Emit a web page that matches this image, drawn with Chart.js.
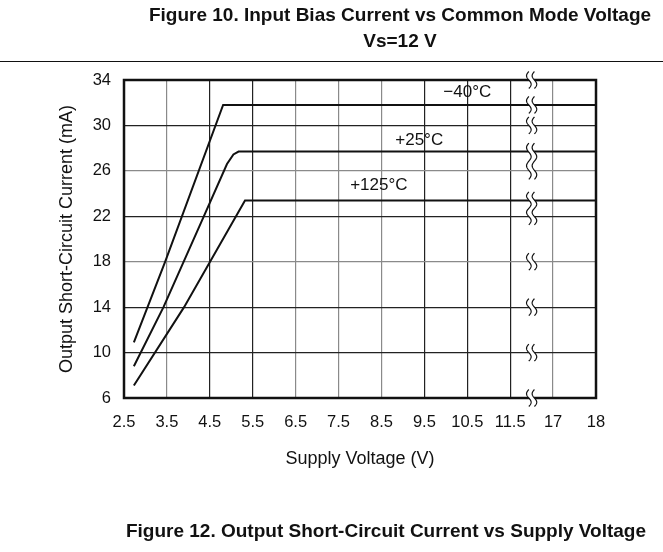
<!DOCTYPE html>
<html>
<head>
<meta charset="utf-8">
<script src="https://cdn.jsdelivr.net/npm/chart.js@4/dist/chart.umd.min.js"></script>
<style>
  body { margin: 0; background: #fff; overflow: hidden; }
  #wrap { position: relative; width: 663px; height: 552px; font-family: "Liberation Sans", Arial, sans-serif; color: #111; }
  #chart { position: absolute; left: 0; top: 0; }
  .fig { position: absolute; transform: translateX(-50%); white-space: nowrap; font-weight: bold; font-size: 19px; line-height: 1; }
  #rule { position: absolute; left: 0; top: 61px; width: 663px; height: 0; border-top: 1.5px solid #111; }
</style>
</head>
<body>
<div id="wrap">
  <canvas id="chart" width="663" height="552"></canvas>
  <div class="fig" style="left:400px; top:5px;">Figure 10. Input Bias Current vs Common Mode Voltage</div>
  <div class="fig" style="left:400px; top:31px;">Vs=12 V</div>
  <div id="rule"></div>
  <div class="fig" style="left:386px; top:521px;">Figure 12. Output Short-Circuit Current vs Supply Voltage</div>
</div>
<script>
// Axis ticks (the x axis has a break between 11.5 and 17)
const xTickLabels = ['2.5', '3.5', '4.5', '5.5', '6.5', '7.5', '8.5', '9.5', '10.5', '11.5', '17', '18'];
const xTickVolts = [2.5, 3.5, 4.5, 5.5, 6.5, 7.5, 8.5, 9.5, 10.5, 11.5, 17, 18];
const yTicks = [6, 10, 14, 18, 22, 26, 30, 34];

// -40°C curve
const voltsM40 = [2.73, 3.46, 4.81, 18];
const currentM40 = [10.9, 18, 31.8, 31.8];
// +25°C curve
const volts25 = [2.73, 3.42, 4.36, 4.9, 5.05, 5.17, 18];
const current25 = [8.8, 14, 22, 26.6, 27.45, 27.7, 27.7];
// +125°C curve
const volts125 = [2.73, 3.9, 5.32, 18];
const current125 = [7.1, 14, 23.4, 23.4];

const tempLabels = ['\u221240\u00b0C', '+25\u00b0C', '+125\u00b0C'];
const tempLabelVolts = [10.5, 9.38, 8.44];
const tempLabelCurrents = [32.9, 28.7, 24.75];

// axis break marks
const breakVolt = 14.25;
const breakLevels = [[34, 34], [31.8, 31.8], [30, 30], [27.7, 26], [23.4, 22], [18, 18], [14, 14], [10, 10], [6, 6]];

// map a voltage to its position on the broken axis
function voltToPos(v) {
    for (let i = 0; i < xTickVolts.length - 1; i++) {
        const a = xTickVolts[i], b = xTickVolts[i + 1];
        if (v <= b || i === xTickVolts.length - 2) return i + (v - a) / (b - a);
    }
}

function toPoints(xs, ys) {
    return xs.map((v, i) => ({ x: voltToPos(v), y: ys[i] }));
}

const darkX = [2, 3, 7, 8, 9];
const darkY = [30, 22, 14, 10];
const FONT = '"Liberation Sans", Arial, sans-serif';

const framePlugin = {
    id: 'frame',
    afterDatasetsDraw(chart) {
        const { ctx, chartArea: a, scales } = chart;
        ctx.save();
        ctx.strokeStyle = '#111';
        ctx.lineWidth = 2.5;
        ctx.strokeRect(a.left, a.top, a.right - a.left, a.bottom - a.top);

        // break squiggles
        const cx = scales.x.getPixelForValue(voltToPos(breakVolt));
        breakLevels.forEach(([hi, lo]) => {
            const y0 = scales.y.getPixelForValue(hi) - 8.5;
            const y1 = scales.y.getPixelForValue(lo) + 8.5;
            const span = y1 - y0;
            const n = Math.max(1, Math.round(span / 15));
            const wave = (off) => {
                const pts = [];
                for (let s = 0; s <= 48; s++) {
                    const y = y0 + span * s / 48;
                    pts.push([cx + off - 2.3 * Math.sin(2 * Math.PI * n * s / 48), y]);
                }
                return pts;
            };
            const l = wave(-2.8), r = wave(2.8);
            ctx.fillStyle = '#fff';
            ctx.beginPath();
            l.forEach((p, i) => i ? ctx.lineTo(p[0], p[1]) : ctx.moveTo(p[0], p[1]));
            r.slice().reverse().forEach(p => ctx.lineTo(p[0], p[1]));
            ctx.closePath();
            ctx.fill();
            ctx.lineWidth = 1.2;
            ctx.strokeStyle = '#111';
            [l, r].forEach(w => {
                ctx.beginPath();
                w.forEach((p, i) => i ? ctx.lineTo(p[0], p[1]) : ctx.moveTo(p[0], p[1]));
                ctx.stroke();
            });
        });

        // temperature labels
        ctx.fillStyle = '#111';
        ctx.font = '17px ' + FONT;
        ctx.textAlign = 'center';
        ctx.textBaseline = 'middle';
        tempLabels.forEach((t, i) => {
            ctx.fillText(t, scales.x.getPixelForValue(voltToPos(tempLabelVolts[i])),
                scales.y.getPixelForValue(tempLabelCurrents[i]));
        });
        ctx.restore();
    }
};

const lineStyle = {
    borderColor: '#111',
    borderWidth: 2,
    pointRadius: 0,
    tension: 0,
    fill: false
};

new Chart(document.getElementById('chart'), {
    type: 'line',
    data: {
        datasets: [
            Object.assign({ label: tempLabels[0], data: toPoints(voltsM40, currentM40) }, lineStyle),
            Object.assign({ label: tempLabels[1], data: toPoints(volts25, current25) }, lineStyle),
            Object.assign({ label: tempLabels[2], data: toPoints(volts125, current125) }, lineStyle)
        ]
    },
    options: {
        responsive: false,
        animation: false,
        devicePixelRatio: 1,
        layout: { padding: { top: 80, right: 67, bottom: 0, left: 0 } },
        plugins: { legend: { display: false }, tooltip: { enabled: false } },
        scales: {
            x: {
                type: 'linear',
                min: 0,
                max: xTickLabels.length - 1,
                afterBuildTicks: (s) => { s.ticks = xTickLabels.map((_, i) => ({ value: i })); },
                afterFit: (s) => { s.height = 154; },
                ticks: {
                    callback: (v) => xTickLabels[v],
                    padding: 15,
                    color: '#111',
                    font: { family: FONT, size: 16.5 },
                    maxRotation: 0,
                    autoSkip: false
                },
                grid: {
                    drawTicks: false,
                    color: (c) => darkX.includes(c.tick.value) ? '#222' : '#8a8a8a',
                    lineWidth: 1.2
                },
                border: { display: false },
                title: {
                    display: true,
                    text: 'Supply Voltage (V)',
                    color: '#111',
                    font: { family: FONT, size: 18 },
                    padding: { top: 0, bottom: 82 }
                }
            },
            y: {
                min: 6,
                max: 34,
                afterBuildTicks: (s) => { s.ticks = yTicks.map(v => ({ value: v })); },
                afterFit: (s) => { s.width = 124; },
                ticks: {
                    padding: 13,
                    color: '#111',
                    font: { family: FONT, size: 16.5 }
                },
                grid: {
                    drawTicks: false,
                    color: (c) => darkY.includes(c.tick.value) ? '#222' : '#8a8a8a',
                    lineWidth: 1.2
                },
                border: { display: false },
                title: {
                    display: true,
                    text: 'Output Short-Circuit Current (mA)',
                    color: '#111',
                    font: { family: FONT, size: 18 },
                    padding: { top: 56, bottom: 0 }
                }
            }
        }
    },
    plugins: [framePlugin]
});
</script>
</body>
</html>
